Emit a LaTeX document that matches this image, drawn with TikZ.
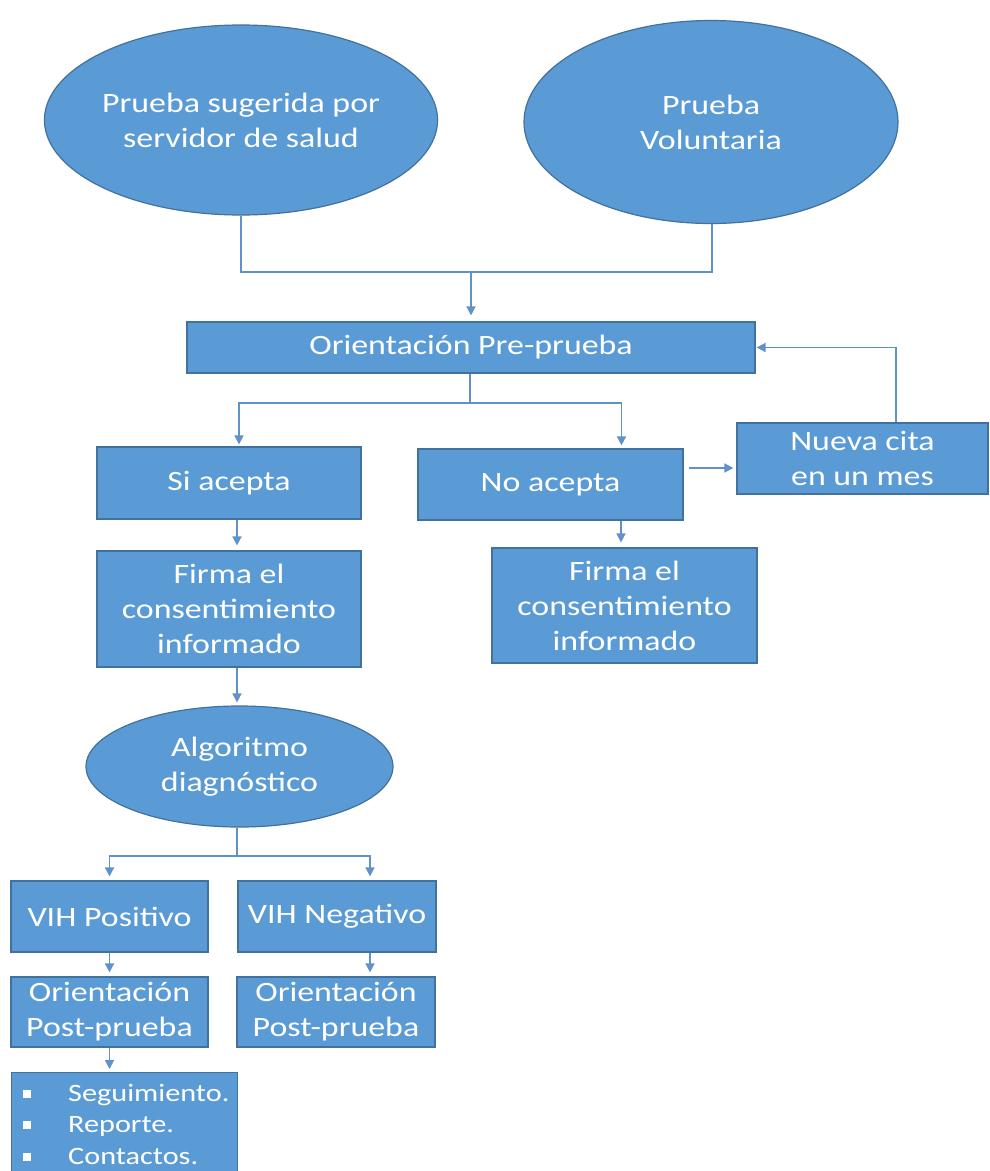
\documentclass[tikz,border=0pt]{standalone}
\usepackage{fontspec}
\setmainfont{Carlito}[FakeStretch=1.21]
\usetikzlibrary{shapes.geometric,arrows.meta,calc}
\definecolor{boxfill}{RGB}{91,155,213}
\definecolor{boxline}{RGB}{65,113,156}
\definecolor{conn}{RGB}{96,145,200}
\tikzset{
  base/.style={fill=boxfill,draw=boxline,line width=1.2pt,text=white,align=center,
    font=\fontsize{28}{35}\selectfont,inner sep=0pt},
  rbox/.style={base,rectangle},
  ebox/.style={base,ellipse},
  conline/.style={draw=conn,line width=1.6pt},
  arr/.style={conline,-{Triangle[length=9pt,width=9pt]}},
  item/.style={text=white,anchor=west,font=\fontsize{25}{30}\selectfont,inner sep=0pt}
}
\begin{document}
\begin{tikzpicture}[x=1pt,y=-1pt]
\useasboundingbox (0,0) rectangle (990,1171);
\clip (0,0) rectangle (990,1171);
\fill[white] (0,0) rectangle (990,1171);
% nodes
\node[ebox,minimum width=391pt,minimum height=190pt] (e1) at (241,120) {Prueba sugerida por\\servidor de salud};
\node[ebox,minimum width=374pt,minimum height=203pt] (e2) at (711,122) {Prueba\\Voluntaria};
\node[rbox,minimum width=568pt,minimum height=51pt] (pre) at (471,347.5) {Orientación Pre-prueba};
\node[rbox,minimum width=264pt,minimum height=72pt] (si) at (229,483) {Si acepta};
\node[rbox,minimum width=265pt,minimum height=71pt] (no) at (550.5,484.5) {No acepta};
\node[rbox,minimum width=251pt,minimum height=71pt] (nueva) at (862.5,458.5) {Nueva cita\\en un mes};
\node[rbox,minimum width=264pt,minimum height=116pt] (f1) at (229,609) {Firma el\\consentimiento\\informado};
\node[rbox,minimum width=265pt,minimum height=115pt] (f2) at (624.5,605.5) {Firma el\\consentimiento\\informado};
\node[ebox,minimum width=307pt,minimum height=121pt] (alg) at (239.5,766.5) {Algoritmo\\diagnóstico};
\node[rbox,minimum width=197pt,minimum height=71pt] (pos) at (109.5,916.5) {VIH Positivo};
\node[rbox,minimum width=198pt,minimum height=71pt] (neg) at (337,916.5) {VIH Negativo};
\node[rbox,minimum width=197pt,minimum height=70pt] (op1) at (109.5,1012) {Orientación\\Post-prueba};
\node[rbox,minimum width=198pt,minimum height=70pt] (op2) at (336,1012) {Orientación\\Post-prueba};
\node[rbox,minimum width=226pt,minimum height=130pt,anchor=north west] (lst) at (11,1072) {};
\node[item] (i1) at (23,1095) {\raisebox{3pt}{\rule{8pt}{8pt}}\hspace{37pt}Seguimiento.};
\node[item] (i2) at (23,1126) {\raisebox{3pt}{\rule{8pt}{8pt}}\hspace{37pt}Reporte.};
\node[item] (i3) at (23,1156) {\raisebox{3pt}{\rule{8pt}{8pt}}\hspace{37pt}Contactos.};
% connectors
\coordinate (j1) at (pre.north |- 0,272);
\draw[conline] (e1.south) |- (j1);
\draw[conline] ([xshift=1pt]e2.south) |- (j1);
\draw[arr,shorten >=6pt] (j1) -- (pre.north);
\coordinate (j2) at (470,403);
\draw[conline] ([xshift=-1pt]pre.south) -- (j2);
\draw[arr,shorten >=2pt] (j2) -| ([xshift=10pt]si.north);
\draw[arr,shorten >=3pt] (j2) -| ([xshift=71pt]no.north);
\draw[arr,shorten <=5pt,shorten >=3pt] ([yshift=16.5pt]no.east) -- ([yshift=-9.5pt]nueva.west);
\draw[arr,shorten >=1pt] ([xshift=33.5pt]nueva.north) |- (pre.east);
\draw[arr,shorten >=5pt] ([xshift=8pt]si.south) -- ([xshift=8pt]si.south |- f1.north);
\draw[arr,shorten >=5pt] ([xshift=70.5pt]no.south) -- ([xshift=70.5pt]no.south |- f2.north);
\draw[arr,shorten >=3pt] ([xshift=8pt]f1.south) -- ([xshift=8pt]f1.south |- alg.north);
\coordinate (j3) at (237,856);
\draw[conline] ([xshift=-2.5pt]alg.south) -- (j3);
\draw[arr,shorten >=4pt] (j3) -| (pos.north);
\draw[arr,shorten >=4pt] (j3) -| ([xshift=33pt]neg.north);
\draw[arr,shorten >=4pt] (pos.south) -- (op1.north);
\draw[arr,shorten >=4pt] ([xshift=33pt]neg.south) -- ([xshift=33pt]neg.south |- op2.north);
\draw[arr,shorten >=3pt] (op1.south) -- (op1.south |- lst.north);
\end{tikzpicture}
\end{document}
